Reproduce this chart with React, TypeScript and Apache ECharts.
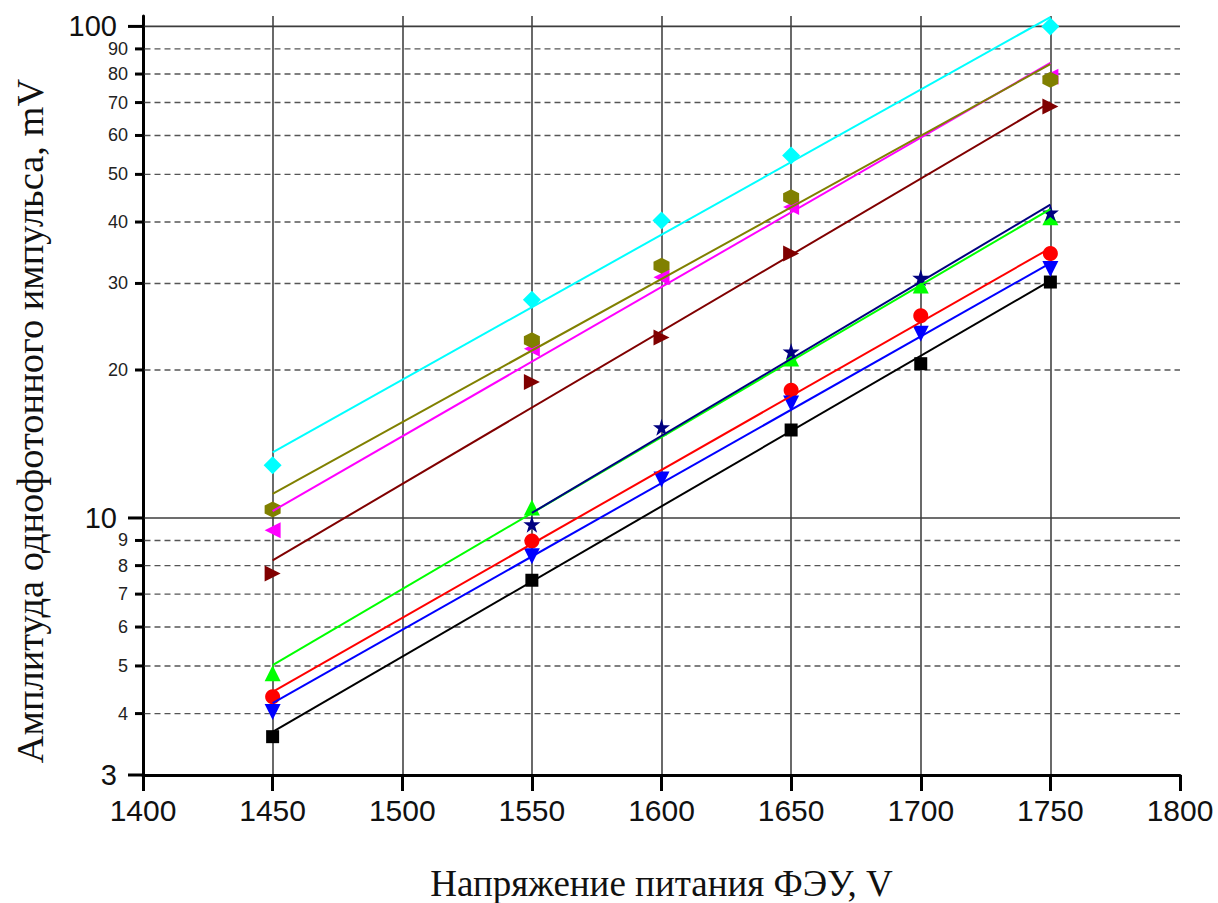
import { useEffect, useRef } from "react";
import * as echarts from "echarts";

// ---------- data ----------
const xMin = 1400;
const xMax = 1800;
const xStep = 50;
const yMin = 3;
const yMax = 105;
const majorYTicks = [3, 10, 100];
const minorYTicks = [4, 5, 6, 7, 8, 9, 20, 30, 40, 50, 60, 70, 80, 90];

const blackX = [1450, 1550, 1650, 1700, 1750];
const blackY = [3.59, 7.47, 15.1, 20.6, 30.2];
const blackFitX = [1450, 1750];
const blackFitY = [3.67, 30.4];

const redX = [1450, 1550, 1650, 1700, 1750];
const redY = [4.33, 8.98, 18.2, 25.8, 34.5];
const redFitX = [1450, 1750];
const redFitY = [4.43, 35.4];

const blueX = [1450, 1550, 1600, 1650, 1700, 1750];
const blueY = [4.03, 8.36, 11.97, 17.1, 23.7, 32.1];
const blueFitX = [1450, 1750];
const blueFitY = [4.2, 33.0];

const greenX = [1450, 1550, 1650, 1700, 1750];
const greenY = [4.83, 10.5, 21.1, 29.7, 40.9];
const greenFitX = [1450, 1750];
const greenFitY = [5.02, 42.5];

const navyX = [1550, 1600, 1650, 1700, 1750];
const navyY = [9.71, 15.3, 21.8, 30.8, 41.8];
const navyFitX = [1550, 1750];
const navyFitY = [10.24, 43.4];

const maroonX = [1450, 1550, 1600, 1650, 1750];
const maroonY = [7.71, 18.9, 23.3, 34.5, 68.7];
const maroonFitX = [1450, 1750];
const maroonFitY = [8.2, 70.1];

const magentaX = [1450, 1550, 1600, 1650, 1750];
const magentaY = [9.44, 22.1, 30.9, 42.9, 79.0];
const magentaFitX = [1450, 1750];
const magentaFitY = [10.33, 84.3];

const oliveX = [1450, 1550, 1600, 1650, 1750];
const oliveY = [10.4, 23.0, 32.6, 44.9, 77.9];
const oliveFitX = [1450, 1750];
const oliveFitY = [11.2, 83.8];

const cyanX = [1450, 1550, 1600, 1650, 1750];
const cyanY = [12.8, 27.8, 40.3, 54.6, 100];
const cyanFitX = [1450, 1750];
const cyanFitY = [13.6, 104.5];

const xTitle = "Напряжение питания ФЭУ, V";
const yTitle = "Амплитуда однофотонного импульса, mV";

// ---------- styles ----------
const STAR =
  "path://M50,0 L61.2,34.5 L97.6,34.5 L68.2,55.9 L79.4,90.5 L50,69.1 L20.6,90.5 L31.8,55.9 L2.4,34.5 L38.8,34.5 Z";
const HEX = "path://M50,0 L93.3,25 L93.3,75 L50,100 L6.7,75 L6.7,25 Z";

const defs = [
  { name: "1", color: "#000000", symbol: "rect", size: 13, rotate: 0, x: blackX, y: blackY, fx: blackFitX, fy: blackFitY },
  { name: "2", color: "#ff0000", symbol: "circle", size: 15, rotate: 0, x: redX, y: redY, fx: redFitX, fy: redFitY },
  { name: "3", color: "#0000ff", symbol: "triangle", size: 16, rotate: 180, x: blueX, y: blueY, fx: blueFitX, fy: blueFitY },
  { name: "4", color: "#00ff00", symbol: "triangle", size: 16, rotate: 0, x: greenX, y: greenY, fx: greenFitX, fy: greenFitY },
  { name: "5", color: "#000080", symbol: STAR, size: 17, rotate: 0, x: navyX, y: navyY, fx: navyFitX, fy: navyFitY },
  { name: "6", color: "#800000", symbol: "triangle", size: 16, rotate: -90, x: maroonX, y: maroonY, fx: maroonFitX, fy: maroonFitY },
  { name: "7", color: "#ff00ff", symbol: "triangle", size: 16, rotate: 90, x: magentaX, y: magentaY, fx: magentaFitX, fy: magentaFitY },
  { name: "8", color: "#808000", symbol: HEX, size: 16, rotate: 0, x: oliveX, y: oliveY, fx: oliveFitX, fy: oliveFitY },
  { name: "9", color: "#00ffff", symbol: "diamond", size: 18, rotate: 0, x: cyanX, y: cyanY, fx: cyanFitX, fy: cyanFitY },
];

const SANS = "'Liberation Sans', Arial, sans-serif";
const SERIF = "'Liberation Serif', 'Times New Roman', serif";

export default function App() {
  const ref = useRef<HTMLDivElement>(null);

  useEffect(() => {
    if (!ref.current) return;
    const chart = echarts.init(ref.current, undefined, { renderer: "svg" });

    const series: any[] = [];
    defs.forEach((d) => {
      series.push({
        name: d.name,
        type: "scatter",
        data: d.x.map((v, i) => [v, d.y[i]]),
        symbol: d.symbol,
        symbolSize: d.size,
        symbolRotate: d.rotate,
        itemStyle: { color: d.color, opacity: 1 },
        emphasis: { disabled: true },
      });
      series.push({
        name: d.name + " fit",
        type: "line",
        data: d.fx.map((v, i) => [v, d.fy[i]]),
        showSymbol: false,
        symbol: "none",
        lineStyle: { color: d.color, width: 2 },
        emphasis: { disabled: true },
      });
    });

    const splitColors = [];
    for (let v = xMin; v < xMax; v += xStep) splitColors.push("#444444");
    splitColors.push("rgba(0,0,0,0)");

    chart.setOption({
      animation: false,
      backgroundColor: "#ffffff",
      grid: { left: 143, right: 38, top: 16, bottom: 128, containLabel: false },
      xAxis: {
        type: "value",
        min: xMin,
        max: xMax,
        interval: xStep,
        axisLine: { show: true, onZero: false, lineStyle: { color: "#000", width: 3 } },
        axisTick: { show: true, inside: false, length: 16, lineStyle: { color: "#000", width: 3 } },
        axisLabel: {
          fontSize: 30,
          color: "#111",
          fontFamily: SANS,
          margin: 20,
          formatter: (v: number) => String(Math.round(v)),
        },
        splitLine: { show: true, showMaxLine: false, lineStyle: { color: splitColors, width: 1.6 } },
      },
      yAxis: {
        type: "log",
        logBase: 10,
        min: yMin,
        max: yMax,
        axisLine: { show: true, onZero: false, lineStyle: { color: "#000", width: 3 } },
        axisTick: { show: false },
        axisLabel: {
          fontSize: 29,
          color: "#111",
          fontFamily: SANS,
          margin: 26,
          showMaxLabel: false,
          formatter: (v: number) => {
            const r = Math.round(v);
            return majorYTicks.includes(r) && Math.abs(v - r) < 1e-6 ? String(r) : "";
          },
        },
        splitLine: { show: false },
      },
      series,
    });

    const x0 = chart.convertToPixel({ xAxisIndex: 0 }, xMin) as number;
    const x1 = chart.convertToPixel({ xAxisIndex: 0 }, xMax) as number;
    const yPx = (v: number) => chart.convertToPixel({ yAxisIndex: 0 }, v) as number;

    const graphics: any[] = [];
    [10, 100].forEach((v) => {
      const y = yPx(v);
      graphics.push({
        type: "line",
        z: 1,
        shape: { x1: x0 + 1.5, y1: y, x2: x1, y2: y },
        style: { stroke: "#3d3d3d", lineWidth: 1.6 },
        silent: true,
      });
    });
    majorYTicks.forEach((v) => {
      const y = yPx(v);
      graphics.push({
        type: "line",
        z: 5,
        shape: { x1: x0 - 15, y1: y, x2: x0, y2: y },
        style: { stroke: "#000", lineWidth: 3 },
        silent: true,
      });
    });
    minorYTicks.forEach((v) => {
      const y = yPx(v);
      graphics.push({
        type: "line",
        z: 1,
        shape: { x1: x0 + 1.5, y1: y, x2: x1, y2: y },
        style: { stroke: "#555", lineWidth: 1.4, lineDash: [6, 4] },
        silent: true,
      });
      graphics.push({
        type: "line",
        z: 5,
        shape: { x1: x0 - 8, y1: y, x2: x0, y2: y },
        style: { stroke: "#000", lineWidth: 3 },
        silent: true,
      });
      graphics.push({
        type: "text",
        z: 5,
        x: x0 - 15,
        y: y,
        style: {
          text: String(v),
          fontSize: 18,
          fontFamily: SANS,
          fill: "#222",
          align: "right",
          verticalAlign: "middle",
        },
        silent: true,
      });
    });
    graphics.push({
      type: "text",
      z: 5,
      x: (x0 + x1) / 2,
      y: 883,
      style: {
        text: xTitle,
        fontSize: 37,
        fontFamily: SERIF,
        fill: "#111",
        align: "center",
        verticalAlign: "middle",
      },
      silent: true,
    });
    graphics.push({
      type: "text",
      z: 5,
      x: 30,
      y: 421,
      rotation: Math.PI / 2,
      style: {
        text: yTitle,
        fontSize: 38.5,
        fontFamily: SERIF,
        fill: "#111",
        align: "center",
        verticalAlign: "middle",
      },
      silent: true,
    });

    chart.setOption({ graphic: { elements: graphics } });

    return () => chart.dispose();
  }, []);

  return (
    <div
      ref={ref}
      style={{ position: "fixed", left: 0, top: 0, width: 1218, height: 903, background: "#fff" }}
    />
  );
}
